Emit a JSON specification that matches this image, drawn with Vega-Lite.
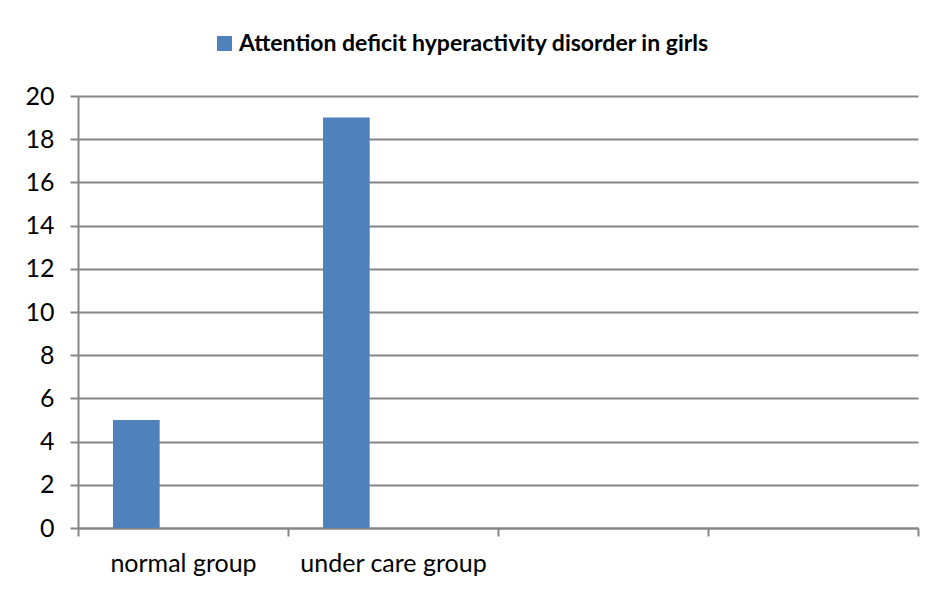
{
  "$schema": "https://vega.github.io/schema/vega-lite/v6.json",
  "width": 840,
  "height": 432,
  "autosize": {"type": "none"},
  "padding": {"left": 78, "top": 96, "right": 20, "bottom": 68},
  "background": "white",
  "data": {
    "values": [
      {"group": "normal group", "slot": "1", "series": "Attention deficit hyperactivity disorder in girls", "value": 5},
      {"group": "under care group", "slot": "1", "series": "Attention deficit hyperactivity disorder in girls", "value": 19}
    ]
  },
  "mark": {"type": "bar"},
  "encoding": {
    "x": {
      "field": "group",
      "type": "nominal",
      "scale": {"domain": ["normal group", "under care group", "c3", "c4"], "paddingInner": 0, "paddingOuter": 0},
      "axis": {
        "title": null,
        "labelAngle": 0,
        "labelExpr": "datum.label == 'c3' || datum.label == 'c4' ? '' : datum.label",
        "labelLimit": 0,
        "labelOverlap": false,
        "tickBand": "extent",
        "tickSize": 8,
        "tickColor": "#868686",
        "tickWidth": 2,
        "domainColor": "#868686",
        "domainWidth": 2,
        "labelFont": "Lato",
        "labelFontSize": 25,
        "labelColor": "#000000",
        "labelPadding": 15,
        "grid": false
      }
    },
    "xOffset": {
      "field": "slot",
      "type": "nominal",
      "scale": {"domain": ["1", "2", "3"], "paddingInner": 0, "paddingOuter": 0.75}
    },
    "y": {
      "field": "value",
      "type": "quantitative",
      "scale": {"domain": [0, 20], "nice": false},
      "axis": {
        "title": null,
        "values": [0, 2, 4, 6, 8, 10, 12, 14, 16, 18, 20],
        "grid": true,
        "gridColor": "#868686",
        "gridWidth": 2,
        "tickSize": 8,
        "tickColor": "#868686",
        "tickWidth": 2,
        "domainColor": "#868686",
        "domainWidth": 2,
        "labelFont": "Lato",
        "labelFontSize": 25,
        "labelColor": "#000000",
        "labelPadding": 16
      }
    },
    "color": {
      "field": "series",
      "type": "nominal",
      "scale": {"range": ["#4F81BD"]},
      "legend": {
        "title": null,
        "orient": "none",
        "legendX": 135,
        "legendY": -64,
        "padding": 0,
        "symbolType": "square",
        "symbolSize": 225,
        "symbolStrokeWidth": 0,
        "labelFont": "Lato",
        "labelFontSize": 23,
        "labelFontWeight": "bold",
        "labelColor": "#000000",
        "labelLimit": 0,
        "labelOffset": 3
      }
    }
  },
  "config": {
    "view": {"stroke": null}
  }
}
